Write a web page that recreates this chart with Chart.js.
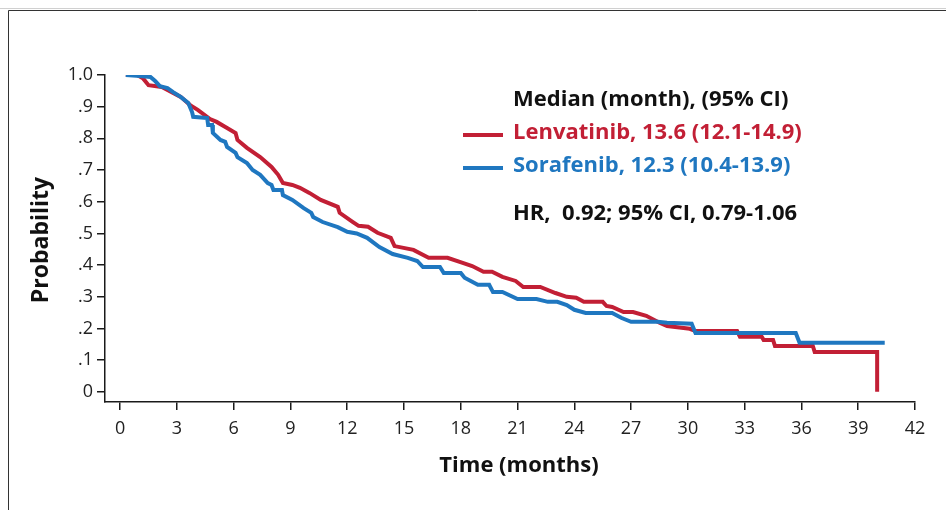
<!DOCTYPE html>
<html>
<head>
<meta charset="utf-8">
<script src="https://cdn.jsdelivr.net/npm/chart.js@4/dist/chart.umd.min.js"></script>
<style>
  html, body { margin: 0; padding: 0; background: #fff; }
  #wrap { width: 946px; height: 510px; position: relative; }
</style>
</head>
<body>
<div id="wrap"><canvas id="km"></canvas></div>
<script>
// Kaplan-Meier style curves (time in months, survival probability)
const lenvTime = [0.3, 0.9, 1.2, 1.5, 2.2, 2.5, 3.2, 3.7, 4.1, 4.75, 5.1, 5.65, 6.1, 6.2, 6.7, 7.4, 8.0, 8.35, 8.6, 9.1,
  9.5, 10.0, 10.6, 11.5, 11.6, 12.3, 12.6, 13.1, 13.6, 14.3, 14.5, 15.5, 16.3, 17.3, 18.1, 18.6, 19.2, 19.65, 20.2, 20.9,
  21.3, 22.2, 23.0, 23.6, 24.1, 24.5, 25.5, 25.7, 26.0, 26.6, 27.1, 27.8, 28.5, 28.9, 30.1, 30.4, 32.6, 32.75, 33.9, 34.0,
  34.5, 34.6, 36.6, 36.7, 40.0, 40.0];
const lenvProb = [1.0, 1.0, 0.99, 0.968, 0.962, 0.953, 0.931, 0.905, 0.89, 0.861, 0.852, 0.833, 0.817, 0.795, 0.77, 0.741, 0.71, 0.685, 0.659, 0.653,
  0.644, 0.628, 0.606, 0.584, 0.565, 0.536, 0.524, 0.521, 0.502, 0.486, 0.46, 0.448, 0.423, 0.423, 0.407, 0.397, 0.379, 0.379, 0.363, 0.35,
  0.331, 0.331, 0.312, 0.30, 0.297, 0.284, 0.284, 0.271, 0.268, 0.252, 0.252, 0.24, 0.218, 0.208, 0.199, 0.192, 0.192, 0.174, 0.174, 0.164,
  0.164, 0.145, 0.145, 0.126, 0.126, 0.0];

const soraTime = [0.3, 1.05, 1.6, 1.85, 2.1, 2.5, 2.8, 3.2, 3.6, 3.8, 3.86, 4.6, 4.65, 4.86, 4.9, 5.3, 5.55, 5.65, 6.1, 6.2,
  6.7, 7.0, 7.4, 7.8, 8.0, 8.1, 8.55, 8.6, 9.1, 9.7, 10.1, 10.2, 10.7, 11.5, 12.0, 12.5, 13.05, 13.7, 14.4, 15.2,
  15.7, 16.0, 16.9, 17.1, 18.0, 18.2, 18.9, 19.5, 19.7, 20.2, 21.0, 22.0, 22.6, 23.1, 23.6, 24.0, 24.6, 26.0, 26.5, 27.0,
  28.4, 28.9, 30.2, 30.4, 35.7, 35.9, 40.4];
const soraProb = [1.0, 0.997, 0.994, 0.981, 0.965, 0.959, 0.946, 0.931, 0.912, 0.883, 0.868, 0.864, 0.842, 0.842, 0.817, 0.795, 0.789, 0.773, 0.754, 0.741,
  0.722, 0.70, 0.685, 0.659, 0.653, 0.637, 0.637, 0.621, 0.606, 0.58, 0.565, 0.552, 0.536, 0.52, 0.505, 0.50, 0.486, 0.457, 0.435, 0.423,
  0.413, 0.394, 0.394, 0.375, 0.375, 0.36, 0.338, 0.338, 0.315, 0.315, 0.293, 0.293, 0.284, 0.284, 0.274, 0.259, 0.249, 0.249, 0.233, 0.221,
  0.221, 0.218, 0.215, 0.186, 0.186, 0.155, 0.155];

const xTicks = [0, 3, 6, 9, 12, 15, 18, 21, 24, 27, 30, 33, 36, 39, 42];
const yTicks = [0, 0.1, 0.2, 0.3, 0.4, 0.5, 0.6, 0.7, 0.8, 0.9, 1.0];
const yTickLabels = ['0', '.1', '.2', '.3', '.4', '.5', '.6', '.7', '.8', '.9', '1.0'];

const seriesNames = ['Lenvatinib, 13.6 (12.1-14.9)', 'Sorafenib, 12.3 (10.4-13.9)'];
const headerText = 'Median (month), (95% CI)';
const hrText = 'HR,  0.92; 95% CI, 0.79-1.06';

const RED = '#c21f35';
const BLUE = '#1f77c0';
const AXIS = '#1a1a1a';

const zip = (xs, ys) => xs.map((x, i) => ({ x: x, y: ys[i] }));

// frame, legend block and axis titles
const decor = {
  id: 'decor',
  beforeDraw(chart) {
    const ctx = chart.ctx;
    ctx.save();
    ctx.strokeStyle = '#d0d0d0';
    ctx.lineWidth = 1;
    ctx.beginPath();
    ctx.moveTo(0, 8.5); ctx.lineTo(946, 8.5);
    ctx.stroke();
    ctx.strokeStyle = '#333';
    ctx.beginPath();
    ctx.moveTo(8.5, 510); ctx.lineTo(8.5, 10.5); ctx.lineTo(946, 10.5);
    ctx.stroke();
    ctx.restore();
  },
  afterDraw(chart) {
    const ctx = chart.ctx;
    ctx.save();
    ctx.textBaseline = 'middle';
    ctx.textAlign = 'left';
    ctx.font = 'bold 22px "Open Sans"';
    ctx.fillStyle = '#111';
    ctx.fillText(headerText, 513, 100);
    ctx.fillStyle = RED;
    ctx.fillText(seriesNames[0], 513, 133);
    ctx.fillStyle = BLUE;
    ctx.fillText(seriesNames[1], 513, 166);
    ctx.fillStyle = '#111';
    ctx.fillText(hrText, 513, 214);

    ctx.lineWidth = 4;
    ctx.strokeStyle = RED;
    ctx.beginPath(); ctx.moveTo(463, 135); ctx.lineTo(503, 135); ctx.stroke();
    ctx.strokeStyle = BLUE;
    ctx.beginPath(); ctx.moveTo(463, 168); ctx.lineTo(503, 168); ctx.stroke();

    // axis titles
    ctx.fillStyle = '#111';
    ctx.font = 'bold 22px "Open Sans"';
    ctx.textAlign = 'center';
    ctx.fillText('Time (months)', 519, 466);
    ctx.translate(41, 240);
    ctx.rotate(-Math.PI / 2);
    ctx.font = 'bold 23px "Open Sans"';
    ctx.fillText('Probability', 0, 0);
    ctx.restore();
  }
};

new Chart(document.getElementById('km'), {
  type: 'line',
  data: {
    datasets: [
      {
        label: seriesNames[0],
        data: zip(lenvTime, lenvProb),
        borderColor: RED,
        borderWidth: 4,
        pointRadius: 0,
        tension: 0,
        fill: false,
        order: 1
      },
      {
        label: seriesNames[1],
        data: zip(soraTime, soraProb),
        borderColor: BLUE,
        borderWidth: 4,
        pointRadius: 0,
        tension: 0,
        fill: false,
        order: 0
      }
    ]
  },
  options: {
    responsive: true,
    maintainAspectRatio: false,
    animation: false,
    layout: { padding: { left: 0, top: 75, right: 31, bottom: 0 } },
    plugins: {
      legend: { display: false },
      tooltip: { enabled: false }
    },
    scales: {
      x: {
        type: 'linear',
        min: -0.8,
        max: 42,
        afterBuildTicks: (s) => { s.ticks = xTicks.map(v => ({ value: v })); },
        afterFit: (s) => { s.height = 108; },
        grid: { drawOnChartArea: false, drawTicks: true, tickLength: 8, color: AXIS, lineWidth: 1.5 },
        border: { display: true, color: AXIS, width: 1.5 },
        ticks: {
          color: '#222',
          font: { family: 'Open Sans', size: 18 },
          padding: 8,
          maxRotation: 0,
          autoSkip: false
        }
      },
      y: {
        type: 'linear',
        min: -0.032,
        max: 1.0,
        afterBuildTicks: (s) => { s.ticks = yTicks.map(v => ({ value: v })); },
        afterFit: (s) => { s.width = 105; },
        grid: { drawOnChartArea: false, drawTicks: true, tickLength: 8, color: AXIS, lineWidth: 1.5 },
        border: { display: true, color: AXIS, width: 1.5 },
        ticks: {
          color: '#222',
          font: { family: 'Open Sans', size: 18 },
          padding: 4,
          autoSkip: false,
          callback: (v) => {
            const i = yTicks.findIndex(t => Math.abs(t - v) < 1e-6);
            return i >= 0 ? yTickLabels[i] : '';
          }
        }
      }
    }
  },
  plugins: [decor]
});
</script>
</body>
</html>
